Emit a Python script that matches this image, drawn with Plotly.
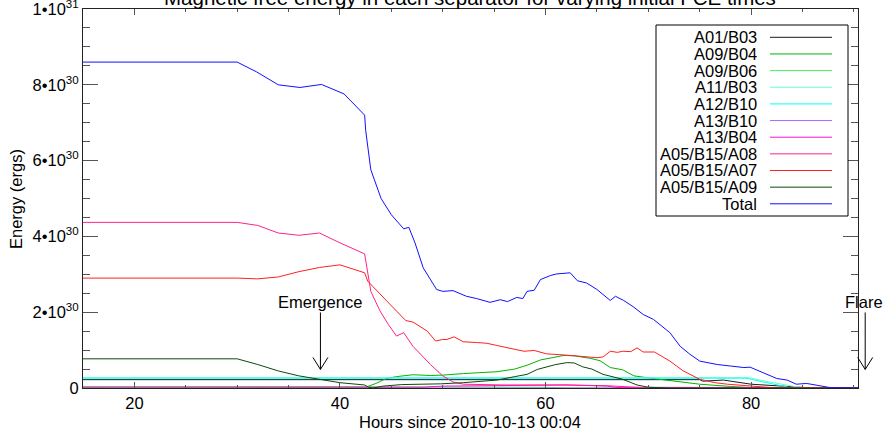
import plotly.graph_objects as go

SCALE = 1e30  # values below are in units of 1e30 ergs

# ---------------- data (hours since 2010-10-13 00:04, energy / 1e30 ergs) ----------------
names = ["A01/B03", "A09/B04", "A09/B06", "A11/B03", "A12/B10", "A13/B10",
         "A13/B04", "A05/B15/A08", "A05/B15/A07", "A05/B15/A09", "Total"]
colors = ["#1a1a1a", "#00b400", "#44ee66", "#66ffcc", "#00ffff", "#aa66ff",
          "#ff11cc", "#ff2288", "#ff2020", "#0a4a0a", "#1010ff"]

a01b03_h = [15, 75.0, 75.3, 77.3, 80.0, 82.8, 84.7, 86.0, 90.4]
a01b03_v = [0.22, 0.22, 0.18, 0.21, 0.10, 0.05, 0.02, 0.0, 0.0]

a09b04_h = [15, 42.6, 43.5, 44.5, 45.5, 47.1, 48.8, 50.0, 52.0, 55.3, 57.0, 58.2, 59.5,
            60.5, 61.8, 62.8, 64.4, 65.3, 66.3, 67.5, 68.6, 70.2, 72.0, 75.0, 78.0, 80.0,
            83.0, 85.0, 90.4]
a09b04_v = [0.04, 0.03, 0.12, 0.25, 0.30, 0.35, 0.33, 0.34, 0.38, 0.43, 0.50, 0.60, 0.74,
            0.80, 0.86, 0.85, 0.78, 0.72, 0.54, 0.48, 0.32, 0.26, 0.20, 0.10, 0.04, 0.01,
            0.005, 0.0, 0.0]

a09b06_h = [15, 45.0, 50.0, 60.0, 62.0, 90.4]
a09b06_v = [0.04, 0.04, 0.03, 0.02, 0.0, 0.0]

a11b03_h = [15, 79.9, 81.0, 82.8, 84.0, 85.5, 90.4]
a11b03_v = [0.27, 0.27, 0.20, 0.10, 0.05, 0.0, 0.0]

a12b10_h = [15, 79.5, 81.0, 82.5, 84.0, 90.4]
a12b10_v = [0.26, 0.26, 0.17, 0.08, 0.0, 0.0]

a13b10_h = [15, 66.8, 67.2, 90.4]
a13b10_v = [0.0, 0.0, 0.02, 0.01]

a13b04_h = [15, 48.0, 50.0, 55.0, 62.0, 66.0, 67.0, 90.4]
a13b04_v = [0.02, 0.02, 0.05, 0.07, 0.08, 0.05, 0.01, 0.0]

a08_h = [15, 30.0, 32.0, 34.0, 36.0, 38.0, 40.0, 42.4, 43.0, 43.9, 44.7, 45.5, 46.2,
         47.1, 48.8, 50.0, 51.0, 52.0, 56.0, 62.0, 66.0, 68.0, 70.0, 90.4]
a08_v = [4.37, 4.37, 4.29, 4.09, 4.03, 4.09, 3.83, 3.54, 2.55, 2.03, 1.68, 1.37, 1.46,
         1.10, 0.62, 0.32, 0.16, 0.10, 0.08, 0.08, 0.06, 0.02, 0.0, 0.0]

a07_h = [15, 30.0, 32.0, 34.0, 36.0, 38.0, 40.0, 42.4, 42.7, 43.9, 45.5, 46.4, 47.1,
         48.5, 49.3, 50.0, 50.4, 51.1, 52.0, 53.3, 54.3, 55.3, 56.9, 57.9, 58.9, 60.1,
         61.4, 62.5, 63.5, 65.0, 65.6, 66.3, 67.0, 67.5, 68.3, 68.9, 69.5, 70.6, 72.1,
         73.4, 75.0, 76.5, 77.7, 80.0, 82.0, 90.4]
a07_v = [2.90, 2.90, 2.88, 2.93, 3.07, 3.18, 3.25, 3.04, 2.82, 2.47, 2.03, 1.78, 1.74,
         1.50, 1.24, 1.28, 1.28, 1.35, 1.22, 1.20, 1.18, 1.12, 1.02, 0.97, 0.99, 0.90,
         0.88, 0.86, 0.84, 0.80, 0.82, 0.97, 0.94, 0.97, 0.96, 1.06, 0.95, 0.95, 0.71,
         0.45, 0.23, 0.14, 0.10, 0.05, 0.01, 0.0]

a09_h = [15, 30.0, 32.0, 34.0, 36.0, 38.0, 40.0, 42.4, 42.8, 43.2, 44.2, 46.0, 48.0,
         49.8, 52.0, 55.3, 57.0, 58.2, 59.2, 60.2, 61.0, 62.1, 62.8, 63.6, 64.5, 65.6,
         66.5, 67.5, 68.9, 70.0, 72.0, 90.4]
a09_v = [0.77, 0.77, 0.62, 0.45, 0.32, 0.23, 0.14, 0.08, 0.02, 0.0, 0.05, 0.09, 0.10,
         0.11, 0.14, 0.21, 0.30, 0.36, 0.49, 0.56, 0.62, 0.67, 0.66, 0.56, 0.50, 0.36,
         0.30, 0.23, 0.08, 0.02, 0.0, 0.0]

total_h = [15, 30.0, 31.9, 34.0, 36.1, 38.2, 40.4, 42.4, 42.5, 43.0, 44.0, 45.0, 46.2,
           46.7, 47.3, 48.1, 49.4, 50.0, 51.0, 52.3, 53.3, 54.6, 55.6, 56.3, 57.2, 57.8,
           58.2, 58.9, 59.5, 60.5, 61.1, 62.4, 63.1, 64.0, 65.0, 66.3, 66.8, 67.6, 68.5,
           69.5, 70.5, 71.3, 72.1, 73.1, 74.0, 75.0, 76.7, 78.0, 79.3, 79.9, 81.2, 82.5,
           83.5, 84.4, 85.4, 86.7, 87.7, 90.4]
total_v = [8.60, 8.60, 8.34, 8.00, 7.93, 8.01, 7.76, 7.20, 6.80, 5.76, 5.00, 4.57, 4.20,
           4.24, 3.83, 3.17, 2.60, 2.55, 2.57, 2.42, 2.36, 2.26, 2.33, 2.28, 2.39, 2.36,
           2.55, 2.58, 2.86, 2.97, 3.01, 3.04, 2.83, 2.77, 2.60, 2.31, 2.42, 2.31, 2.15,
           1.94, 1.81, 1.63, 1.46, 1.10, 0.90, 0.71, 0.62, 0.58, 0.54, 0.55, 0.40, 0.25,
           0.21, 0.10, 0.12, 0.05, 0.01, 0.0]

hours = [a01b03_h, a09b04_h, a09b06_h, a11b03_h, a12b10_h, a13b10_h,
         a13b04_h, a08_h, a07_h, a09_h, total_h]
values = [a01b03_v, a09b04_v, a09b06_v, a11b03_v, a12b10_v, a13b10_v,
          a13b04_v, a08_v, a07_v, a09_v, total_v]

x_range = [15, 90.4]
y_range = [0, 10.001]
y_tick_vals = [0, 2, 4, 6, 8, 10]
y_tick_text = ["0", "2•10<sup>30</sup>", "4•10<sup>30</sup>", "6•10<sup>30</sup>",
               "8•10<sup>30</sup>", "1•10<sup>31</sup>"]
x_tick_vals = [20, 40, 60, 80]

emergence_time = 38.1
flare_time = 91.1
arrow_tip = 0.49  # arrow tip level, in 1e30 ergs

title_text = "Magnetic free energy in each separator for varying initial FCE times"
x_title = "Hours since 2010-10-13 00:04"
y_title = "Energy (ergs)"

# ---------------- figure ----------------
FONT = "Liberation Sans, Arial, sans-serif"
FS = 16.5
W, H = 886, 430
ML, MR, MT, MB = 83, 28, 9, 42
PW, PH = W - ML - MR, H - MT - MB


def px_x(px):
    return (px - ML) / PW


def px_y(py):
    return (H - MB - py) / PH


fig = go.Figure()
for n, c, hh, vv in zip(names, colors, hours, values):
    fig.add_trace(go.Scatter(
        x=hh, y=[v * SCALE for v in vv], mode="lines", name=n,
        line=dict(color=c, width=1), cliponaxis=False, showlegend=False))

axis_common = dict(showgrid=False, zeroline=False, showline=True, linecolor="#222",
                   linewidth=1, mirror="ticks", ticks="inside", tickcolor="#555",
                   automargin=False, ticklabeloverflow="allow",
                   tickfont=dict(family=FONT, size=FS, color="#000"))

fig.update_xaxes(range=x_range, tickmode="array", tickvals=x_tick_vals, ticklen=6,
                 minor=dict(ticks="inside", ticklen=3, dtick=5, tick0=0, tickcolor="#555"),
                 **axis_common)
fig.update_yaxes(range=[y_range[0] * SCALE, y_range[1] * SCALE], tickmode="array",
                 tickvals=[v * SCALE for v in y_tick_vals], ticktext=y_tick_text,
                 ticklen=15, ticklabelstandoff=0,
                 minor=dict(ticks="inside", ticklen=7, dtick=0.5 * SCALE, tick0=0,
                            tickcolor="#555"),
                 **axis_common)

annotations = []
shapes = []

# title (partly cut by top edge as in reference)
annotations.append(dict(text=title_text, xref="paper", yref="paper", x=px_x(470), y=1,
                        xanchor="center", yanchor="bottom", showarrow=False, yshift=-2,
                        font=dict(family=FONT, size=20.5, color="#000")))
# axis titles
annotations.append(dict(text=x_title, xref="paper", yref="paper", x=px_x(470),
                        y=px_y(422), xanchor="center", yanchor="middle", showarrow=False,
                        font=dict(family=FONT, size=FS, color="#000")))
annotations.append(dict(text=y_title, xref="paper", yref="paper", x=px_x(16),
                        y=px_y(199), xanchor="center", yanchor="middle", showarrow=False,
                        textangle=-90, font=dict(family=FONT, size=FS, color="#000")))

# event markers: text + shaft + open V head
flare_xp = (flare_time - x_range[0]) / (x_range[1] - x_range[0])
events = [("Emergence", "x", emergence_time, emergence_time, "center"),
          ("Flare", "paper", flare_xp, px_x(885.5), "right")]
for label, xref, xval, tx, txa in events:
    annotations.append(dict(text=label, xref=xref, yref="y", x=tx, xanchor=txa,
                            y=arrow_tip * SCALE, yshift=67, yanchor="middle",
                            showarrow=False, font=dict(family=FONT, size=FS, color="#000")))
    shapes.append(dict(type="line", xref=xref, yref="y", xsizemode="pixel",
                       ysizemode="pixel", xanchor=xval, yanchor=arrow_tip * SCALE,
                       x0=0, x1=0, y0=0, y1=57, line=dict(color="#000", width=1)))
    shapes.append(dict(type="path", xref=xref, yref="y", xsizemode="pixel",
                       ysizemode="pixel", xanchor=xval, yanchor=arrow_tip * SCALE,
                       path="M-7.5,12 L0,0 L7.5,12", line=dict(color="#000", width=1)))

# custom IDL-style legend box
shapes.append(dict(type="rect", xref="paper", yref="paper", x0=px_x(656), x1=px_x(848),
                   y0=px_y(216), y1=px_y(25), line=dict(color="#000", width=1),
                   fillcolor="white", layer="above"))
row0, dy = 37.3, 16.65
for i, (n, c) in enumerate(zip(names, colors)):
    ry = row0 + i * dy
    annotations.append(dict(text=n, xref="paper", yref="paper", x=px_x(759), y=px_y(ry),
                            xanchor="right", yanchor="middle", showarrow=False,
                            height=16, valign="middle",
                            font=dict(family=FONT, size=FS, color="#000")))
    shapes.append(dict(type="line", xref="paper", yref="paper", x0=px_x(770),
                       x1=px_x(832), y0=px_y(ry), y1=px_y(ry),
                       line=dict(color=c, width=1), layer="above"))

fig.update_layout(width=W, height=H, margin=dict(l=ML, r=MR, t=MT, b=MB),
                  paper_bgcolor="white", plot_bgcolor="white",
                  annotations=annotations, shapes=shapes,
                  font=dict(family=FONT, size=FS, color="#000"))

fig.write_html("out.html", config={"displayModeBar": False},
               post_script="document.body.style.margin='0px';"
                           "document.body.style.overflow='hidden';")
